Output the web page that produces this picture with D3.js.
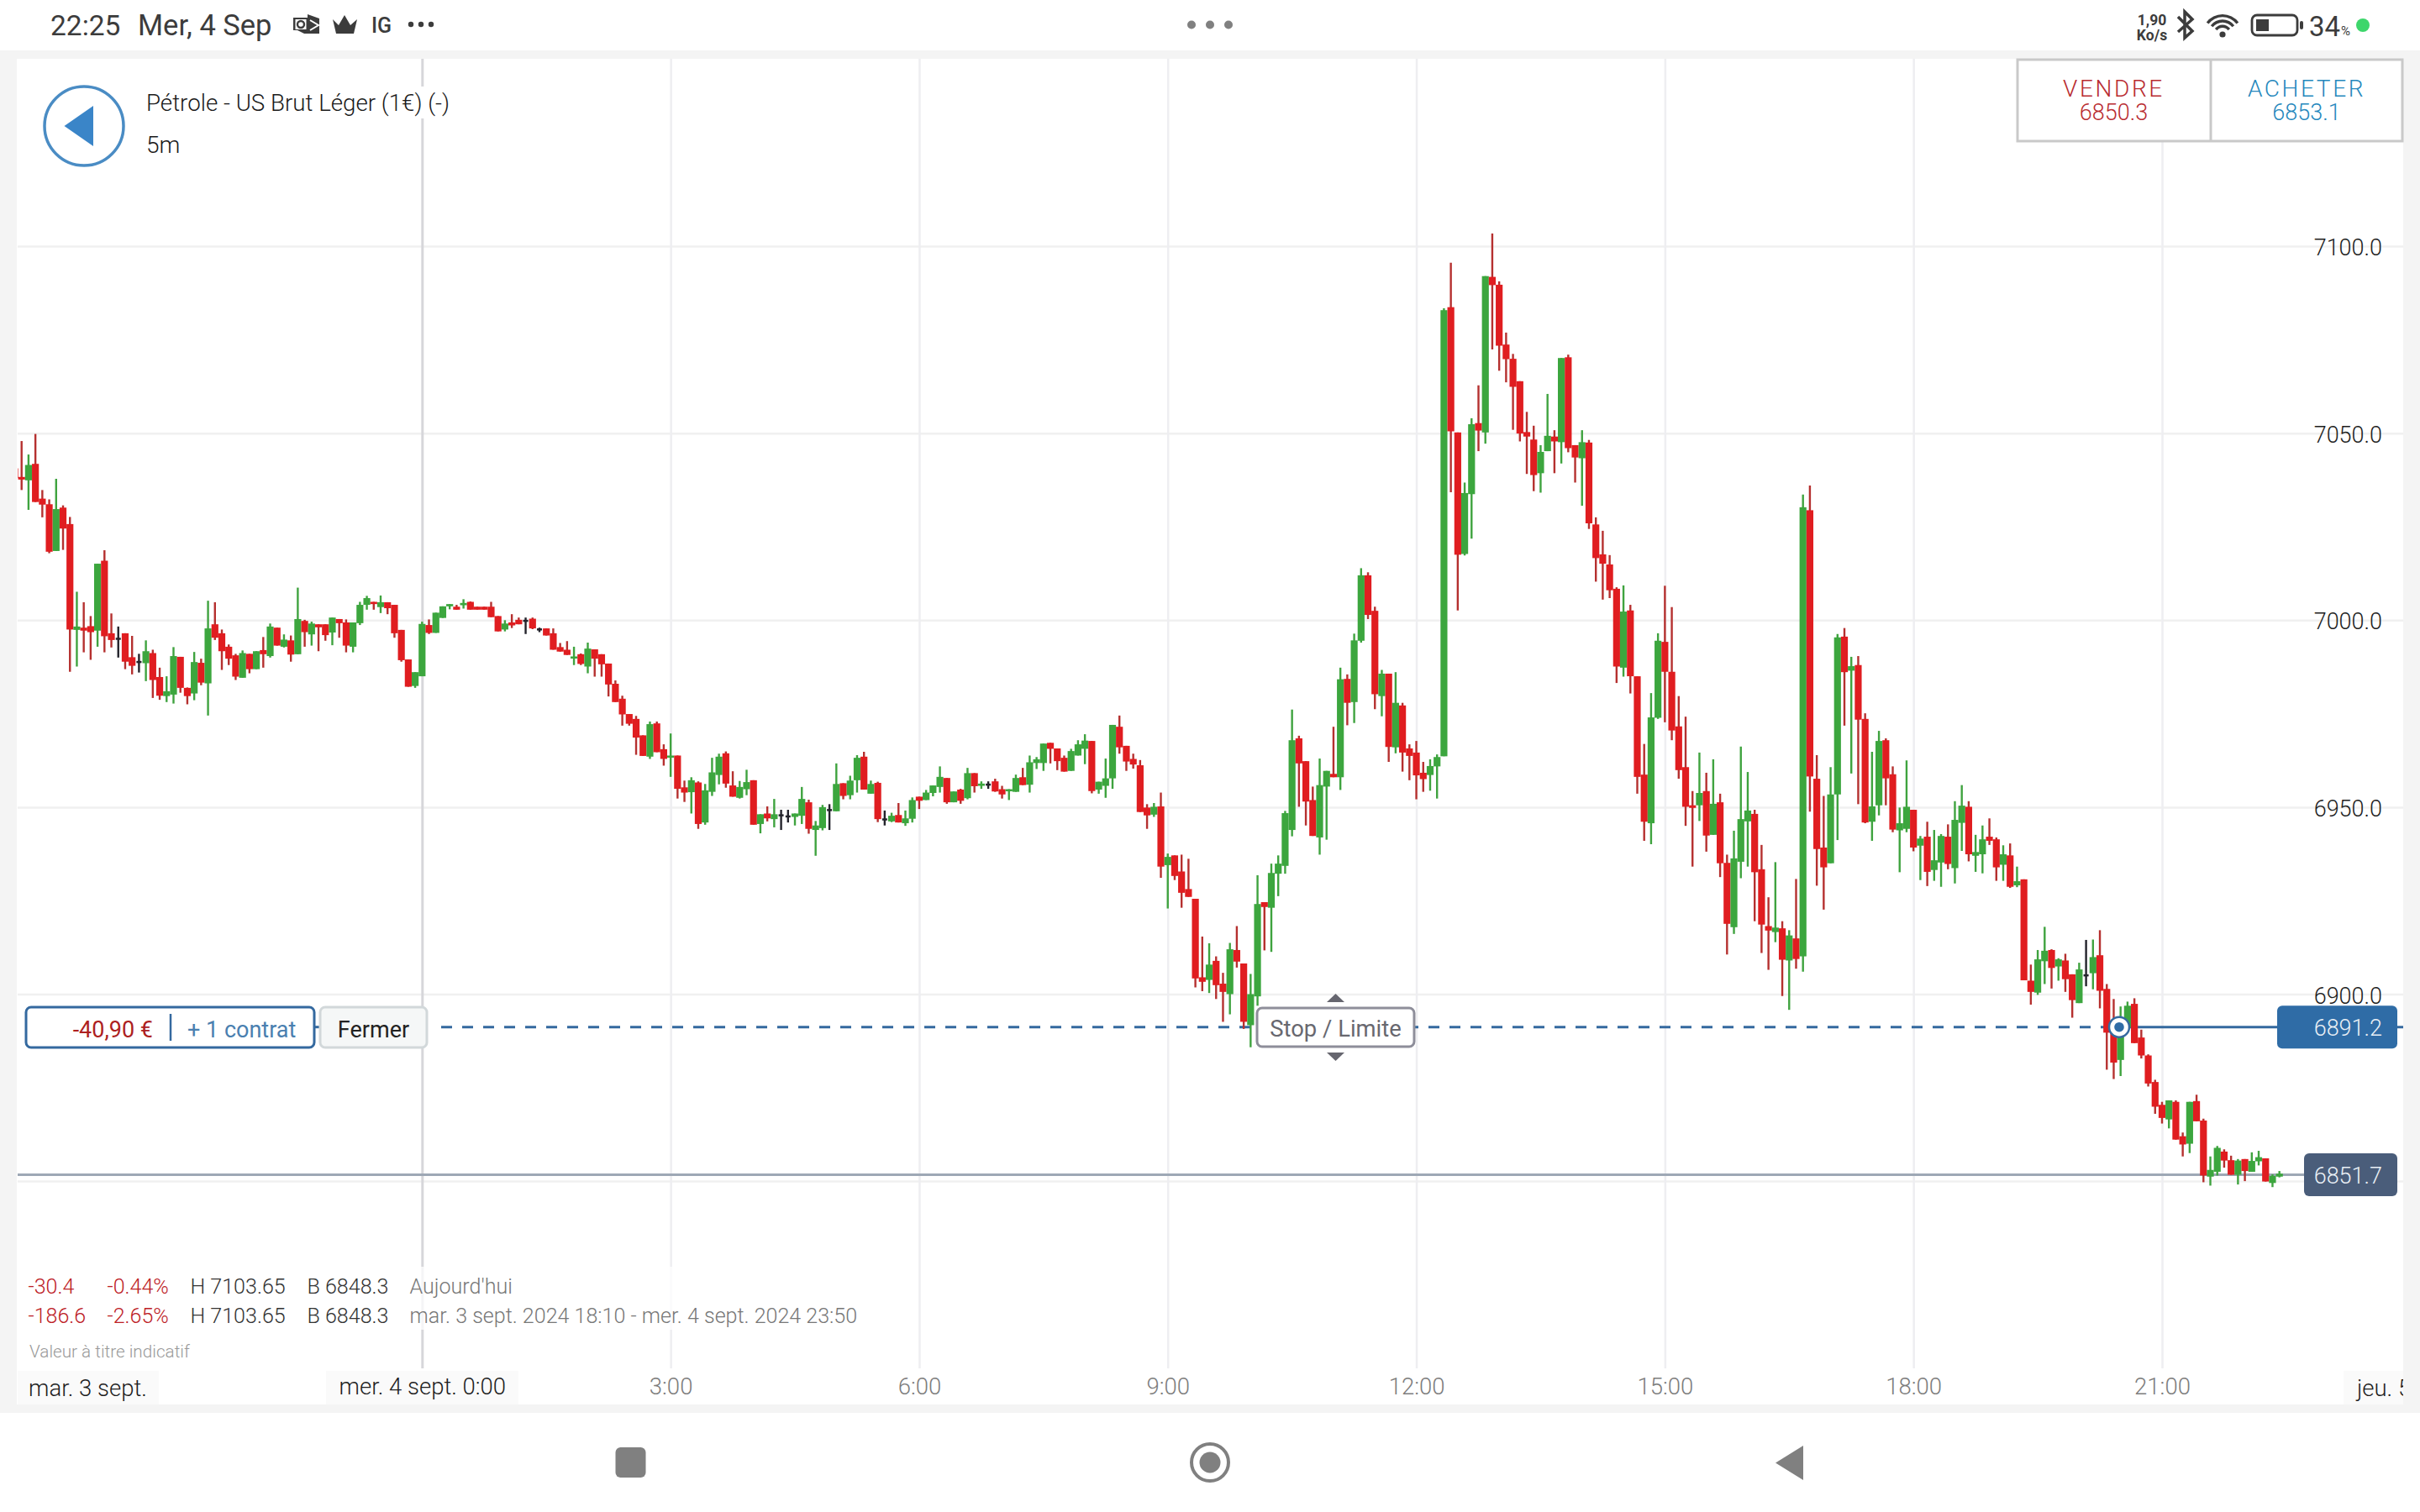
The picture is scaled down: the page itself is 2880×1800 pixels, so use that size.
<!DOCTYPE html>
<html>
<head>
<meta charset="utf-8">
<title>Pétrole - US Brut Léger</title>
<script src="https://cdn.jsdelivr.net/npm/d3@7"></script>
<style>
  html, body { margin: 0; padding: 0; background: #fff; }
  svg { display: block; }
  text { font-family: Roboto, sans-serif; }
</style>
</head>
<body>
<div id="chart"></div>
<script>
// 5 minute candles, first one is mar. 3 sept. 19:05, last one mer. 4 sept. 22:25
const firstCandle = Date.UTC(2024, 8, 3, 19, 5)
const opens = [
  7040.6,7038.3,7037.4,7041.8,7032.5,7031.0,7018.5,7030.1,7025.7,6997.4,
  6998.0,6998.4,6997.2,7015.9,6996.5,6995.3,6996.5,6990.1,6989.1,6988.5,
  6991.2,6984.8,6979.7,6980.1,6990.2,6981.9,6980.4,6988.6,6983.1,6998.9,
  6996.5,6992.9,6990.6,6984.6,6991.0,6986.9,6992.0,6990.4,6998.0,6992.9,
  6994.6,6990.9,6999.8,6996.2,6998.9,6998.9,6996.7,7000.3,6999.4,6992.9,
  6999.2,7004.1,7004.9,7003.5,7004.8,7004.1,6997.4,6989.5,6982.4,6985.0,
  6998.7,6996.6,7000.6,7003.7,7003.6,7004.0,7004.9,7003.6,7003.6,7003.6,
  7001.1,6997.5,6999.4,7000.1,7000.1,7000.4,6997.8,6997.8,6996.5,6992.8,
  6992.1,6989.8,6990.9,6987.6,6992.2,6990.9,6988.4,6983.0,6979.0,6974.9,
  6973.6,6969.2,6963.5,6972.4,6965.5,6963.4,6963.8,6955.3,6954.0,6956.6,
  6945.9,6954.1,6958.6,6964.4,6955.8,6952.5,6954.8,6957.2,6945.5,6948.3,
  6946.8,6948.1,6947.8,6947.4,6947.7,6951.3,6943.9,6944.4,6949.5,6948.9,
  6956.4,6953.2,6957.2,6963.5,6953.6,6956.5,6947.0,6946.2,6947.9,6945.7,
  6946.9,6952.8,6951.9,6953.8,6955.4,6957.8,6951.3,6954.7,6952.4,6959.1,
  6955.7,6956.3,6956.9,6954.8,6954.3,6954.1,6958.0,6956.0,6961.8,6961.8,
  6967.2,6965.7,6963.2,6959.7,6963.8,6965.6,6967.7,6954.7,6955.7,6957.7,
  6971.5,6966.4,6962.9,6961.2,6949.9,6948.0,6950.2,6934.5,6937.1,6932.8,
  6928.1,6925.5,6904.5,6903.8,6908.9,6902.8,6900.0,6911.8,6908.2,6891.7,
  6899.4,6924.6,6923.1,6932.2,6934.3,6943.9,6968.4,6962.3,6951.9,6941.9,
  6955.5,6958.9,6958.0,6984.3,6978.1,6994.5,7012.0,7002.5,6979.7,6985.7,
  6966.0,6977.2,6965.7,6964.6,6959.2,6958.6,6960.9,6963.6,7083.7,7050.2,
  7017.7,7033.7,7052.7,7050.2,7091.8,7089.7,7073.7,7069.9,7063.9,7050.3,
  7048.3,7039.3,7045.2,7049.1,7047.6,7070.3,7046.8,7043.3,7047.5,7025.6,
  7017.6,7014.9,7008.4,6987.3,7002.6,6985.0,6958.7,6945.7,6973.9,6994.2,
  6986.2,6971.6,6960.7,6950.5,6950.5,6954.3,6942.6,6951.3,6935.1,6917.9,
  6935.4,6946.2,6948.2,6933.4,6918.2,6916.6,6917.6,6909.0,6914.9,6910.1,
  7029.4,6957.6,6939.2,6935.0,6953.4,6995.6,6986.5,6988.0,6973.6,6946.1,
  6950.5,6967.9,6958.8,6943.8,6944.2,6949.3,6939.7,6942.1,6933.2,6935.2,
  6942.1,6933.7,6945.8,6950.1,6937.0,6937.4,6942.1,6941.4,6934.6,6937.1,
  6929.1,6930.7,6903.6,6900.4,6908.8,6911.8,6907.4,6909.0,6905.3,6897.6,
  6905.3,6905.6,6910.4,6901.4,6890.0,6882.4,6891.1,6897.4,6888.4,6883.6,
  6876.5,6870.4,6866.5,6871.2,6862.0,6860.0,6871.4,6866.2,6851.2,6852.5,
  6857.9,6855.6,6851.7,6855.9,6852.5,6855.3,6856.1,6849.5,6851.2
]
const highs = [
  7040.6,7047.9,7044.3,7049.8,7034.8,7032.3,7037.8,7030.7,7027.6,7007.6,
  7004.8,7001.1,7015.1,7018.7,7001.8,6998.3,6996.5,6995.8,6991.0,6994.6,
  6992.1,6987.3,6985.0,6992.8,6990.2,6982.0,6991.5,6989.7,7005.2,7004.8,
  6997.5,6993.5,6991.0,6991.9,6991.0,6991.7,6995.5,6999.1,6998.0,6996.2,
  6995.9,7008.7,7000.1,6999.6,6998.9,6998.9,7000.7,7000.3,7000.2,6999.4,
  7004.9,7006.5,7004.9,7006.6,7004.8,7004.1,6997.4,6989.5,6986.1,6999.6,
  7000.2,7002.0,7003.7,7004.3,7004.1,7005.6,7005.0,7003.6,7003.6,7004.9,
  7001.1,7000.0,7001.6,7000.7,7000.7,7000.7,6998.0,6997.8,6997.8,6993.9,
  6994.4,6992.9,6991.1,6994.0,6992.2,6990.9,6988.4,6983.9,6979.8,6974.9,
  6974.4,6969.2,6972.9,6972.9,6966.8,6969.7,6963.8,6957.1,6958.0,6956.9,
  6956.2,6963.2,6964.3,6964.9,6959.6,6957.0,6960.0,6957.2,6948.1,6950.2,
  6952.2,6949.3,6949.3,6948.3,6955.4,6952.0,6946.3,6950.6,6950.8,6961.7,
  6956.4,6958.4,6963.9,6964.8,6957.1,6956.8,6949.1,6948.5,6951.1,6949.1,
  6952.6,6952.8,6954.6,6955.8,6960.9,6957.8,6954.2,6954.9,6960.5,6959.1,
  6956.9,6956.9,6957.6,6955.7,6954.8,6958.7,6960.5,6963.8,6963.4,6967.0,
  6967.2,6965.7,6963.8,6965.6,6967.9,6969.5,6967.7,6956.8,6963.0,6972.0,
  6974.5,6966.4,6964.3,6962.6,6950.8,6951.1,6953.9,6937.6,6937.1,6937.3,
  6936.2,6925.5,6915.4,6913.6,6910.1,6905.7,6913.7,6918.2,6908.2,6905.4,
  6931.8,6924.6,6934.9,6937.1,6949.0,6976.1,6969.1,6962.3,6955.5,6963.0,
  6959.7,6971.5,6987.3,6985.5,6996.4,7013.9,7012.8,7003.6,6986.7,6985.7,
  6986.1,6977.9,6966.8,6967.7,6962.1,6962.8,6964.1,7083.4,7095.6,7050.2,
  7036.8,7054.0,7062.8,7092.0,7103.4,7090.6,7076.9,7071.2,7063.9,7055.7,
  7052.0,7046.8,7060.5,7050.8,7070.1,7071.0,7046.8,7050.8,7048.2,7027.5,
  7023.9,7017.4,7008.8,7009.3,7004.1,6985.0,6966.9,6980.5,6996.5,7009.2,
  7003.5,6979.7,6974.2,6954.3,6964.6,6959.2,6962.8,6953.6,6937.3,6943.7,
  6966.2,6959.4,6949.3,6939.9,6925.9,6935.3,6919.5,6917.1,6930.8,7033.6,
  7036.0,6963.9,6953.0,6960.7,6996.3,6997.9,6990.2,6990.4,6975.1,6964.8,
  6970.4,6968.4,6960.9,6949.9,6962.5,6949.3,6942.3,6946.1,6943.9,6942.8,
  6945.4,6951.6,6955.9,6951.6,6942.6,6945.1,6947.0,6941.9,6939.8,6940.3,
  6934.1,6930.7,6907.9,6911.8,6918.0,6912.0,6909.6,6910.8,6905.3,6908.4,
  6914.5,6914.6,6917.1,6902.7,6898.7,6896.7,6898.0,6898.9,6890.5,6883.9,
  6877.1,6871.2,6871.6,6871.6,6863.0,6871.2,6873.1,6866.7,6856.6,6859.4,
  6858.5,6856.8,6855.9,6855.9,6857.7,6858.1,6856.1,6851.8,6852.7
]
const lows = [
  7038.0,7034.8,7029.5,7031.6,7027.5,7017.9,7018.5,7018.8,6986.2,6987.6,
  6991.4,6989.4,6992.9,6991.4,6992.7,6990.0,6986.9,6985.5,6986.0,6983.7,
  6979.2,6978.7,6978.1,6977.7,6980.6,6977.5,6978.6,6982.6,6974.5,6994.7,
  6986.7,6988.0,6984.0,6984.6,6985.8,6986.9,6987.3,6990.0,6993.2,6992.7,
  6988.9,6990.9,6992.9,6993.2,6991.7,6994.5,6993.3,6995.3,6991.4,6991.4,
  6998.7,7002.8,7002.8,7001.9,7001.6,6995.3,6988.9,6982.2,6981.9,6985.0,
  6996.3,6996.6,7000.6,7002.9,7002.8,7003.1,7002.8,7002.8,7002.8,7000.8,
  6997.0,6997.0,6997.9,6998.9,6996.3,6997.6,6996.8,6995.9,6992.1,6991.6,
  6990.7,6988.0,6988.0,6985.8,6984.9,6984.9,6979.6,6978.1,6971.8,6971.8,
  6964.0,6963.7,6962.9,6964.7,6961.1,6958.1,6952.3,6951.4,6948.3,6944.2,
  6945.3,6953.0,6956.1,6955.2,6952.8,6952.3,6953.2,6945.3,6943.0,6946.2,
  6944.6,6943.9,6945.9,6945.1,6945.5,6942.9,6937.0,6943.8,6943.9,6948.9,
  6952.1,6952.1,6953.9,6954.7,6953.6,6946.0,6945.1,6946.0,6945.9,6945.0,
  6945.9,6949.5,6951.9,6952.9,6953.9,6950.9,6951.3,6950.9,6952.1,6953.9,
  6954.9,6954.9,6954.1,6952.3,6951.9,6954.1,6955.9,6953.9,6960.2,6959.7,
  6961.7,6959.9,6959.5,6959.7,6963.8,6961.5,6953.7,6953.6,6952.5,6954.9,
  6964.3,6959.7,6960.3,6948.7,6944.2,6947.4,6931.1,6922.9,6930.5,6923.1,
  6926.0,6901.8,6900.8,6900.3,6898.7,6892.6,6894.6,6907.1,6890.7,6885.8,
  6896.9,6911.7,6911.3,6926.2,6932.2,6942.2,6950.1,6945.1,6942.3,6937.3,
  6941.3,6958.0,6954.6,6971.9,6972.5,6994.0,7000.3,6976.2,6974.3,6962.1,
  6964.4,6959.5,6957.2,6952.1,6954.1,6954.4,6952.3,6963.6,7034.2,7002.6,
  7017.3,7021.8,7045.2,7047.2,7072.4,7066.7,7063.6,7050.9,7047.8,7039.1,
  7034.5,7034.1,7045.2,7039.3,7041.9,7044.9,7036.8,7030.6,7024.4,7010.3,
  7005.5,7005.9,6983.2,6984.9,6980.4,6953.6,6941.0,6940.1,6973.6,6972.7,
  6967.9,6957.6,6945.0,6934.1,6946.3,6938.1,6942.6,6931.3,6910.6,6916.1,
  6931.0,6934.1,6919.5,6911.0,6906.5,6913.9,6899.5,6895.8,6906.8,6906.0,
  6948.8,6929.0,6922.6,6935.0,6941.2,6971.8,6959.0,6950.8,6945.7,6941.0,
  6947.8,6950.5,6943.3,6932.6,6943.3,6938.2,6930.5,6928.9,6930.3,6928.7,
  6933.4,6929.6,6938.3,6935.5,6932.7,6932.3,6939.9,6930.3,6930.3,6928.4,
  6928.6,6903.7,6897.2,6899.8,6902.7,6901.5,6903.6,6900.6,6893.7,6897.6,
  6902.1,6901.3,6896.2,6879.8,6877.3,6878.1,6891.1,6886.9,6882.8,6875.3,
  6868.0,6865.4,6864.1,6861.1,6856.6,6857.5,6866.0,6849.7,6848.8,6851.5,
  6853.6,6851.7,6849.1,6850.0,6852.5,6854.2,6849.9,6848.4,6851.0
]
const closes = [
  7038.0,7037.6,7041.5,7031.6,7030.9,7018.3,7029.7,7024.5,6997.5,6998.3,
  6997.2,6996.8,7015.1,6995.7,6994.7,6995.3,6988.9,6987.8,6989.1,6991.7,
  6984.0,6979.8,6981.0,6990.4,6981.9,6979.7,6988.8,6983.3,6997.8,6995.3,
  6991.7,6989.7,6984.9,6991.2,6986.9,6991.7,6990.9,6998.3,6993.2,6994.8,
  6990.8,7000.3,6996.8,6999.1,6998.1,6996.0,7000.7,6999.2,6993.2,6999.4,
  7004.1,7005.9,7004.3,7004.8,7003.2,6996.5,6989.3,6982.2,6986.1,6999.0,
  6996.6,7002.0,7003.7,7004.3,7002.8,7004.6,7002.8,7002.8,7002.8,7000.8,
  6997.0,6999.1,6998.6,6998.9,7000.1,6997.8,6997.8,6995.9,6992.1,6991.6,
  6990.7,6990.3,6988.3,6992.4,6989.7,6988.2,6982.8,6978.1,6974.8,6972.3,
  6968.6,6963.7,6972.2,6964.7,6962.9,6963.8,6954.9,6953.9,6957.2,6945.5,
  6954.5,6959.3,6963.5,6956.3,6952.8,6955.4,6956.7,6945.3,6948.1,6947.0,
  6948.1,6948.1,6947.8,6948.3,6952.2,6944.2,6945.1,6950.0,6949.5,6956.2,
  6953.0,6957.1,6963.2,6954.7,6956.2,6946.8,6947.0,6947.7,6945.9,6947.0,
  6951.9,6951.7,6953.9,6955.8,6958.1,6951.3,6954.2,6951.7,6959.1,6955.6,
  6956.3,6956.3,6954.2,6953.4,6954.8,6957.8,6955.9,6962.0,6962.8,6967.0,
  6965.6,6962.3,6959.5,6965.0,6966.8,6967.8,6954.3,6956.8,6957.7,6972.0,
  6966.0,6962.2,6961.4,6948.7,6947.8,6950.1,6934.1,6936.7,6931.6,6927.1,
  6926.0,6904.2,6903.3,6907.9,6902.4,6900.6,6912.0,6908.7,6892.6,6900.0,
  6924.1,6923.3,6932.4,6934.9,6948.4,6967.9,6961.7,6951.5,6942.3,6955.9,
  6959.7,6958.0,6984.2,6977.9,6994.6,7012.0,7001.4,6980.2,6985.7,6966.1,
  6977.9,6964.6,6963.7,6958.5,6957.5,6961.0,6963.4,7082.9,7050.5,7017.5,
  7034.0,7052.4,7050.7,7092.0,7089.6,7073.4,7069.8,7062.4,7049.9,7049.1,
  7038.8,7045.0,7049.3,7047.8,7070.1,7046.0,7043.5,7047.6,7025.9,7016.6,
  7015.1,7008.0,6987.6,7002.3,6985.0,6958.1,6946.1,6974.0,6994.5,6986.2,
  6970.5,6959.9,6950.1,6949.8,6953.8,6942.4,6950.9,6935.0,6918.8,6936.3,
  6946.8,6949.1,6932.6,6918.6,6917.0,6917.8,6909.2,6915.7,6909.4,7030.2,
  6958.2,6938.8,6933.9,6953.4,6995.4,6986.1,6987.7,6973.4,6945.9,6950.2,
  6967.7,6957.7,6944.0,6945.7,6950.1,6939.2,6941.6,6932.7,6935.8,6942.3,
  6934.8,6946.6,6950.4,6937.4,6938.0,6941.4,6941.0,6933.9,6937.4,6928.7,
  6930.2,6903.7,6900.6,6909.3,6911.6,6907.0,6909.3,6904.0,6898.4,6906.6,
  6905.3,6909.9,6900.9,6889.7,6881.7,6891.8,6896.9,6886.9,6883.6,6876.1,
  6869.9,6866.9,6871.6,6861.1,6859.8,6871.2,6866.0,6851.5,6853.0,6858.9,
  6855.5,6851.7,6855.5,6852.7,6855.4,6856.4,6849.9,6851.4,6852.0
]

const gridLevels = [7100, 7050, 7000, 6950, 6900, 6850]
const priceTicks = [7100, 7050, 7000, 6950, 6900]
const timeTicks = [0, 3, 6, 9, 12, 15, 18, 21].map(h => new Date(Date.UTC(2024, 8, 4, h)))
const timeLabels = ["mer. 4 sept. 0:00", "3:00", "6:00", "9:00", "12:00", "15:00", "18:00", "21:00"]
const positionLevel = 6891.2
const lastLevel = 6851.7

const width = 2880
const height = 1800
const panel = ({top: 70, right: 2860, bottom: 1672, left: 20})
const gridBottom = 1629

const x = d3.scaleUtc()
    .domain([new Date(Date.UTC(2024, 8, 4)), new Date(Date.UTC(2024, 8, 5))])
    .range([502.3, 2868.8])

const y = d3.scaleLinear()
    .domain([6850, 7100])
    .range([1406.1, 293.1])

const candles = opens.map((open, i) => ({
    date: new Date(firstCandle + i * 300000),
    open, high: highs[i], low: lows[i], close: closes[i]
}))

const svg = d3.select("#chart").append("svg")
    .attr("width", width)
    .attr("height", height)
    .attr("viewBox", [0, 0, width, height])

// page frame
svg.append("rect").attr("width", width).attr("height", height).attr("fill", "#f4f4f4")
svg.append("rect").attr("width", width).attr("height", 60).attr("fill", "#fff")
svg.append("rect").attr("y", 1682).attr("width", width).attr("height", 118).attr("fill", "#fff")
svg.append("rect")
    .attr("x", panel.left).attr("y", panel.top)
    .attr("width", panel.right - panel.left).attr("height", panel.bottom - panel.top)
    .attr("fill", "#fff")

svg.append("clipPath").attr("id", "panel-clip").append("rect")
    .attr("x", panel.left + 1).attr("y", panel.top)
    .attr("width", panel.right - panel.left - 1).attr("height", panel.bottom - panel.top)

const plot = svg.append("g").attr("clip-path", "url(#panel-clip)")

// grid
plot.append("g")
    .attr("transform", `translate(${panel.left},0)`)
    .call(d3.axisRight(y).tickValues(gridLevels).tickSize(panel.right - panel.left).tickFormat(""))
    .call(g => g.select(".domain").remove())
    .call(g => g.selectAll("line").attr("stroke", "#f0f0f0").attr("stroke-width", 2.5))

plot.append("g")
    .attr("transform", `translate(0,${panel.top})`)
    .call(d3.axisBottom(x).tickValues(timeTicks).tickSize(gridBottom - panel.top).tickFormat(""))
    .call(g => g.select(".domain").remove())
    .call(g => g.selectAll("line")
        .attr("stroke", (d, i) => i == 0 ? "#d6d6da" : "#eeeef1")
        .attr("stroke-width", (d, i) => i == 0 ? 3 : 2.5))

// white boxes the app puts behind its texts
const washes = [[170, 103, 370, 38], [480, 1508, 545, 75]]
plot.selectAll(".wash").data(washes).enter().append("rect")
    .attr("class", "wash")
    .attr("x", d => d[0]).attr("y", d => d[1])
    .attr("width", d => d[2]).attr("height", d => d[3])
    .attr("fill", "#fff").attr("opacity", (d, i) => i == 0 ? 1 : 0.75)

// last price line
plot.append("line")
    .attr("x1", panel.left).attr("x2", 2742)
    .attr("y1", y(lastLevel)).attr("y2", y(lastLevel))
    .attr("stroke", "#9ea8b5").attr("stroke-width", 3)

// position line
plot.append("line")
    .attr("x1", 525).attr("x2", x(new Date(Date.UTC(2024, 8, 4, 20, 30))))
    .attr("y1", y(positionLevel)).attr("y2", y(positionLevel))
    .attr("stroke", "#34699f").attr("stroke-width", 3).attr("stroke-dasharray", "13 12")
plot.append("line")
    .attr("x1", 2522).attr("x2", panel.right)
    .attr("y1", y(positionLevel)).attr("y2", y(positionLevel))
    .attr("stroke", "#34699f").attr("stroke-width", 3)

// candles
const candleColor = d => d.close > d.open ? "#3ca63e" : d.close < d.open ? "#e01d20" : "#23232b"
const wickColor = d => d.close > d.open ? "#3fa33f" : d.close < d.open ? "#b5302f" : "#23232b"

const candle = plot.append("g").selectAll("g")
    .data(candles)
    .enter().append("g")

candle.append("line")
    .attr("x1", d => x(d.date)).attr("x2", d => x(d.date))
    .attr("y1", d => y(d.high)).attr("y2", d => y(d.low))
    .attr("stroke", wickColor)
    .attr("stroke-width", 2.4)

candle.append("rect")
    .attr("x", d => x(d.date) - (d.open == d.close ? 3 : 4.1))
    .attr("width", d => d.open == d.close ? 6 : 8.2)
    .attr("y", d => y(Math.max(d.open, d.close)))
    .attr("height", d => Math.max(2.5, Math.abs(y(d.open) - y(d.close))))
    .attr("fill", candleColor)

// time axis
const xAxis = d3.axisBottom(x)
    .tickValues(timeTicks)
    .tickSize(0)
    .tickPadding(0)
    .tickFormat((d, i) => timeLabels[i])

svg.append("rect").attr("x", 388).attr("y", 1632).attr("width", 229).attr("height", 40).attr("fill", "#fafafa")
svg.append("rect").attr("x", 21).attr("y", 1632).attr("width", 168).attr("height", 40).attr("fill", "#fafafa")
svg.append("rect").attr("x", 2789).attr("y", 1632).attr("width", 71).attr("height", 40).attr("fill", "#fafafa")

svg.append("g")
    .attr("transform", "translate(0,1640)")
    .call(xAxis)
    .call(g => g.select(".domain").remove())
    .call(g => g.selectAll("text")
        .style("font-family", "Roboto, sans-serif")
        .style("font-size", "27.5px")
        .style("font-weight", 300)
        .attr("fill", (d, i) => i == 0 ? "#1e1e1e" : "#7d7d7d"))

svg.append("text")
    .attr("x", 34).attr("y", 1662)
    .style("font-size", "27.5px").style("font-weight", 300)
    .attr("fill", "#1e1e1e")
    .text("mar. 3 sept.")

svg.append("g").attr("clip-path", "url(#panel-clip)").append("text")
    .attr("x", 2805).attr("y", 1662)
    .style("font-size", "27.5px").style("font-weight", 300)
    .attr("fill", "#1e1e1e")
    .text("jeu. 5 sept. 0:00")

// price axis
const yAxis = d3.axisLeft(y)
    .tickValues(priceTicks)
    .tickSize(0)
    .tickPadding(0)
    .tickFormat(d3.format(".1f"))

svg.append("g")
    .attr("transform", "translate(2835,2)")
    .call(yAxis)
    .call(g => g.select(".domain").remove())
    .call(g => g.selectAll("text")
        .style("font-family", "Roboto, sans-serif")
        .style("font-size", "27px")
        .style("font-weight", 300)
        .attr("fill", "#1e1e1e"))

// price labels
function priceLabel(level, left, fill) {
    svg.append("rect")
        .attr("x", left).attr("y", y(level) - 25.5)
        .attr("width", 2853 - left).attr("height", 51)
        .attr("rx", 6)
        .attr("fill", fill)
    svg.append("text")
        .attr("x", 2835).attr("y", y(level) + 10)
        .attr("text-anchor", "end")
        .attr("fill", "#e9eff5")
        .style("font-size", "27px").style("font-weight", 300)
        .text(d3.format(".1f")(level))
}
priceLabel(positionLevel, 2710, "#2f6ca6")
priceLabel(lastLevel, 2742, "#4a5d7a")

// position marker
svg.append("circle")
    .attr("cx", 2522).attr("cy", y(positionLevel)).attr("r", 12)
    .attr("fill", "#fff").attr("stroke", "#34699f").attr("stroke-width", 2.5)
svg.append("circle")
    .attr("cx", 2522).attr("cy", y(positionLevel)).attr("r", 5.8)
    .attr("fill", "#2f6ca6")

// order box
svg.append("rect")
    .attr("x", 31).attr("y", 1199).attr("width", 343).attr("height", 48).attr("rx", 6)
    .attr("fill", "#fff").attr("stroke", "#34699f").attr("stroke-width", 3)
svg.append("line").attr("x1", 203).attr("x2", 203).attr("y1", 1207).attr("y2", 1239)
    .attr("stroke", "#34699f").attr("stroke-width", 2.5)
svg.append("line").attr("x1", 374).attr("x2", 381).attr("y1", y(positionLevel)).attr("y2", y(positionLevel))
    .attr("stroke", "#34699f").attr("stroke-width", 3)
svg.append("text").attr("x", 182).attr("y", 1234.5).attr("text-anchor", "end")
    .attr("fill", "#ad1f1f").style("font-size", "27px").style("font-weight", 400)
    .text("-40,90 €")
svg.append("text").attr("x", 223).attr("y", 1234.5)
    .attr("fill", "#4a7fb0").style("font-size", "27px").style("font-weight", 400)
    .text("+ 1 contrat")

svg.append("rect")
    .attr("x", 381).attr("y", 1199).attr("width", 127).attr("height", 48).attr("rx", 6)
    .attr("fill", "#f5f7f7").attr("stroke", "#d2d8da").attr("stroke-width", 3)
svg.append("text").attr("x", 444.5).attr("y", 1234.5).attr("text-anchor", "middle")
    .attr("fill", "#222").style("font-size", "27px").style("font-weight", 400)
    .text("Fermer")

// stop / limite handle
svg.append("rect")
    .attr("x", 1496).attr("y", 1200).attr("width", 187).attr("height", 46).attr("rx", 6)
    .attr("fill", "#fff").attr("stroke", "#8e8e9a").attr("stroke-width", 3)
svg.append("text").attr("x", 1589.5).attr("y", 1233.5).attr("text-anchor", "middle")
    .attr("fill", "#68686f").style("font-size", "27.4px")
    .text("Stop / Limite")
svg.append("path").attr("d", "M1579 1193L1589.5 1183L1600 1193Z").attr("fill", "#66666f")
svg.append("path").attr("d", "M1579 1253L1589.5 1263L1600 1253Z").attr("fill", "#66666f")

// title
svg.append("circle").attr("cx", 100).attr("cy", 150).attr("r", 47)
    .attr("fill", "#fff").attr("stroke", "#4a8cc4").attr("stroke-width", 3.5)
svg.append("path").attr("d", "M76.5 150L111 126V174Z").attr("fill", "#3a85c8")
svg.append("text").attr("x", 174).attr("y", 131.5)
    .attr("fill", "#1a1a1a").style("font-size", "27.7px").style("font-weight", 300)
    .text("Pétrole - US Brut Léger (1€) (-)")
svg.append("text").attr("x", 174).attr("y", 181.5)
    .attr("fill", "#1a1a1a").style("font-size", "28px").style("font-weight", 300)
    .text("5m")

// sell / buy box
svg.append("rect")
    .attr("x", 2401).attr("y", 71).attr("width", 458).attr("height", 97)
    .attr("fill", "#fff").attr("stroke", "#c9c9c9").attr("stroke-width", 3)
svg.append("line").attr("x1", 2631).attr("x2", 2631).attr("y1", 71).attr("y2", 168)
    .attr("stroke", "#c9c9c9").attr("stroke-width", 3)
const quotes = [
    {label: "VENDRE", price: "6850.3", cx: 2515.5, color: "#b92c31"},
    {label: "ACHETER", price: "6853.1", cx: 2745, color: "#2688bd"}
]
quotes.forEach(q => {
    svg.append("text").attr("x", q.cx).attr("y", 115).attr("text-anchor", "middle")
        .attr("fill", q.color).style("font-size", "28px").style("font-weight", 300)
        .style("letter-spacing", "2.6px").text(q.label)
    svg.append("text").attr("x", q.cx).attr("y", 143).attr("text-anchor", "middle")
        .attr("fill", q.color).style("font-size", "27px").style("font-weight", 300)
        .text(q.price)
})

// summary lines
const statRows = [
    {y: 1539.5, change: "-30.4", pct: "-0.44%", high: "H 7103.65", low: "B 6848.3", span: "Aujourd'hui"},
    {y: 1574.5, change: "-186.6", pct: "-2.65%", high: "H 7103.65", low: "B 6848.3", span: "mar. 3 sept. 2024 18:10 - mer. 4 sept. 2024 23:50"}
]
const statText = (x0, y0, fill, s) => svg.append("text").attr("x", x0).attr("y", y0)
    .attr("fill", fill).style("font-size", "25.05px").style("font-weight", 300).text(s)
statRows.forEach(r => {
    statText(33.5, r.y, "#bd2026", r.change)
    statText(127.5, r.y, "#bd2026", r.pct)
    statText(226.5, r.y, "#333", r.high)
    statText(365.5, r.y, "#333", r.low)
    statText(487.5, r.y, "#777", r.span)
})
svg.append("text").attr("x", 35).attr("y", 1616)
    .attr("fill", "#999").style("font-size", "20.7px").style("font-weight", 300)
    .text("Valeur à titre indicatif")

// status bar
const statusColor = "#3c3c3c"
svg.append("text").attr("x", 60).attr("y", 42).attr("fill", statusColor)
    .style("font-size", "33.5px").text("22:25")
svg.append("text").attr("x", 164).attr("y", 42).attr("fill", statusColor)
    .style("font-size", "34.5px").text("Mer, 4 Sep")
svg.append("path").attr("d", "M349 21H366V17L380 22V40H362L354 36H349Z").attr("fill", statusColor)
svg.append("rect").attr("x", 351.5).attr("y", 23).attr("width", 13).attr("height", 12).attr("fill", "#fff")
svg.append("circle").attr("cx", 358).attr("cy", 29).attr("r", 4).attr("fill", "none").attr("stroke", statusColor).attr("stroke-width", 2.4)
svg.append("path").attr("d", "M369 24L379 30L369 36").attr("fill", "none").attr("stroke", "#fff").attr("stroke-width", 2)
svg.append("path").attr("d", "M396 23L403 30L410 18L417 30L425 23L421 40H400Z").attr("fill", statusColor)
svg.append("text").attr("x", 442).attr("y", 39).attr("fill", statusColor)
    .style("font-size", "25px").style("font-weight", 500).text("IG")
d3.range(3).forEach(i => {
    svg.append("circle").attr("cx", 489 + i * 12).attr("cy", 29).attr("r", 3.2).attr("fill", statusColor)
    svg.append("circle").attr("cx", 1418 + i * 22).attr("cy", 29.5).attr("r", 5).attr("fill", "#808080")
})
svg.append("text").attr("x", 2561).attr("y", 30).attr("text-anchor", "middle").attr("fill", statusColor)
    .style("font-size", "17.5px").style("font-weight", 700).text("1,90")
svg.append("text").attr("x", 2561).attr("y", 48).attr("text-anchor", "middle").attr("fill", statusColor)
    .style("font-size", "17.5px").style("font-weight", 700).text("Ko/s")
svg.append("path").attr("d", "M2592 20L2609 37L2600 45V14L2609 23L2592 38")
    .attr("fill", "none").attr("stroke", statusColor).attr("stroke-width", 3.5)
const wifi = [[2645, 41, 18], [2645, 41, 12.5], [2645, 41, 7]]
wifi.forEach((w, i) => {
    svg.append("path")
        .attr("d", d3.arc()({innerRadius: w[2] * 1.15, outerRadius: w[2] * 1.15 + 3.4, startAngle: -Math.PI / 3.4, endAngle: Math.PI / 3.4}))
        .attr("transform", `translate(${w[0]},${w[1]})`)
        .attr("fill", statusColor)
})
svg.append("circle").attr("cx", 2645).attr("cy", 41).attr("r", 3.6).attr("fill", statusColor)
svg.append("rect").attr("x", 2680).attr("y", 18).attr("width", 54).attr("height", 24).attr("rx", 6)
    .attr("fill", "none").attr("stroke", statusColor).attr("stroke-width", 2.8)
svg.append("rect").attr("x", 2685).attr("y", 23).attr("width", 15).attr("height", 14).attr("fill", statusColor)
svg.append("rect").attr("x", 2737).attr("y", 25).attr("width", 4).attr("height", 10).attr("rx", 2).attr("fill", statusColor)
svg.append("text").attr("x", 2748).attr("y", 42.5).attr("fill", statusColor)
    .style("font-size", "33px").text("34")
svg.append("text").attr("x", 2786).attr("y", 42).attr("fill", statusColor)
    .style("font-size", "15px").text("%")
svg.append("circle").attr("cx", 2812).attr("cy", 30).attr("r", 8).attr("fill", "#3dd66b")

// navigation bar
svg.append("rect").attr("x", 732.5).attr("y", 1723).attr("width", 36).attr("height", 36).attr("rx", 6).attr("fill", "#808080")
svg.append("circle").attr("cx", 1440).attr("cy", 1741).attr("r", 22).attr("fill", "#fff").attr("stroke", "#808080").attr("stroke-width", 4)
svg.append("circle").attr("cx", 1440).attr("cy", 1741).attr("r", 12.5).attr("fill", "#808080")
svg.append("path").attr("d", "M2113 1741.5L2146 1721V1762Z").attr("fill", "#808080")
</script>
</body>
</html>
